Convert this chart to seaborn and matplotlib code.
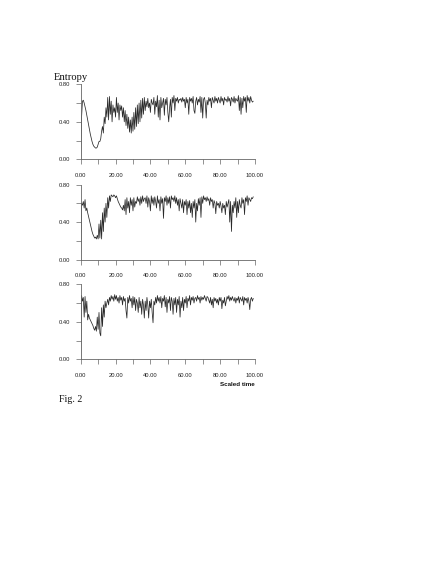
import numpy as np
import pandas as pd
import matplotlib
matplotlib.use("Agg")
import matplotlib.pyplot as plt
from matplotlib.ticker import MultipleLocator, FormatStrFormatter
import seaborn as sns

# time grid (scaled time), step 0.5
time = np.arange(0, 99.5, 0.5)

entropy_a = [
    0.00, 0.45, 0.62, 0.63, 0.60, 0.56, 0.52, 0.47, 0.42, 0.37,
    0.32, 0.27, 0.23, 0.19, 0.16, 0.14, 0.13, 0.12, 0.12, 0.13,
    0.16, 0.19, 0.19, 0.22, 0.30, 0.35, 0.28, 0.45, 0.38, 0.55,
    0.45, 0.66, 0.42, 0.67, 0.48, 0.62, 0.40, 0.58, 0.50, 0.55,
    0.45, 0.66, 0.50, 0.60, 0.42, 0.58, 0.52, 0.57, 0.45, 0.55,
    0.40, 0.52, 0.36, 0.48, 0.33, 0.45, 0.29, 0.42, 0.28, 0.45,
    0.30, 0.50, 0.32, 0.55, 0.35, 0.58, 0.38, 0.60, 0.40, 0.63,
    0.44, 0.65, 0.48, 0.66, 0.52, 0.62, 0.56, 0.65, 0.55, 0.60,
    0.50, 0.64, 0.60, 0.58, 0.66, 0.48, 0.62, 0.56, 0.68, 0.45,
    0.63, 0.42, 0.66, 0.55, 0.60, 0.65, 0.47, 0.64, 0.58, 0.66,
    0.50, 0.40, 0.55, 0.64, 0.45, 0.66, 0.60, 0.68, 0.52, 0.65,
    0.62, 0.66, 0.60, 0.64, 0.63, 0.65, 0.61, 0.66, 0.62, 0.64,
    0.55, 0.66, 0.60, 0.64, 0.48, 0.66, 0.62, 0.65, 0.60, 0.67,
    0.52, 0.49, 0.62, 0.66, 0.58, 0.64, 0.61, 0.67, 0.50, 0.66,
    0.44, 0.64, 0.66, 0.60, 0.44, 0.63, 0.58, 0.66, 0.62, 0.65,
    0.55, 0.66, 0.63, 0.60, 0.67, 0.62, 0.65, 0.60, 0.66, 0.63,
    0.60, 0.67, 0.62, 0.65, 0.58, 0.66, 0.63, 0.64, 0.61, 0.67,
    0.62, 0.65, 0.57, 0.66, 0.64, 0.61, 0.67, 0.60, 0.65, 0.63,
    0.62, 0.68, 0.52, 0.66, 0.48, 0.65, 0.55, 0.67, 0.62, 0.66,
    0.50, 0.68, 0.62, 0.66, 0.60, 0.67, 0.63, 0.61, 0.62,
]

entropy_b = [
    0.00, 0.60, 0.58, 0.62, 0.55, 0.64, 0.52, 0.55, 0.50, 0.46,
    0.42, 0.38, 0.34, 0.30, 0.27, 0.25, 0.23, 0.24, 0.22, 0.26,
    0.22, 0.38, 0.23, 0.42, 0.22, 0.50, 0.30, 0.55, 0.40, 0.60,
    0.45, 0.66, 0.55, 0.68, 0.62, 0.69, 0.68, 0.67, 0.69, 0.68,
    0.66, 0.68, 0.65, 0.62, 0.60, 0.58, 0.56, 0.55, 0.53, 0.58,
    0.52, 0.64, 0.48, 0.66, 0.55, 0.62, 0.50, 0.66, 0.58, 0.64,
    0.52, 0.66, 0.56, 0.62, 0.60, 0.67, 0.62, 0.65, 0.58, 0.67,
    0.60, 0.68, 0.62, 0.65, 0.66, 0.60, 0.68, 0.56, 0.66, 0.62,
    0.52, 0.68, 0.60, 0.66, 0.58, 0.67, 0.62, 0.55, 0.68, 0.60,
    0.64, 0.52, 0.67, 0.60, 0.65, 0.44, 0.66, 0.62, 0.68, 0.58,
    0.66, 0.60, 0.67, 0.55, 0.68, 0.64, 0.66, 0.62, 0.68, 0.60,
    0.66, 0.58, 0.64, 0.52, 0.65, 0.60, 0.55, 0.64, 0.50, 0.62,
    0.58, 0.64, 0.48, 0.62, 0.55, 0.63, 0.50, 0.60, 0.45, 0.62,
    0.55, 0.64, 0.40, 0.60, 0.52, 0.65, 0.58, 0.66, 0.45, 0.67,
    0.60, 0.68, 0.64, 0.66, 0.62, 0.67, 0.63, 0.65, 0.58, 0.66,
    0.62, 0.64, 0.55, 0.63, 0.60, 0.49, 0.62, 0.58, 0.60, 0.55,
    0.62, 0.57, 0.50, 0.60, 0.55, 0.58, 0.48, 0.62, 0.56, 0.60,
    0.64, 0.40, 0.62, 0.30, 0.58, 0.50, 0.62, 0.55, 0.66, 0.45,
    0.62, 0.50, 0.64, 0.58, 0.55, 0.66, 0.60, 0.64, 0.48, 0.66,
    0.62, 0.68, 0.58, 0.66, 0.64, 0.62, 0.66, 0.65, 0.67,
]

entropy_c = [
    0.00, 0.68, 0.62, 0.66, 0.45, 0.67, 0.50, 0.62, 0.42, 0.48,
    0.44, 0.42, 0.40, 0.38, 0.36, 0.33, 0.31, 0.35, 0.30, 0.45,
    0.32, 0.50, 0.28, 0.25, 0.55, 0.35, 0.58, 0.45, 0.62, 0.55,
    0.60, 0.64, 0.58, 0.66, 0.62, 0.68, 0.64, 0.67, 0.62, 0.69,
    0.64, 0.68, 0.62, 0.66, 0.60, 0.68, 0.63, 0.66, 0.58, 0.67,
    0.62, 0.65, 0.52, 0.44, 0.66, 0.60, 0.68, 0.62, 0.65, 0.55,
    0.67, 0.58, 0.66, 0.52, 0.64, 0.60, 0.50, 0.66, 0.55, 0.62,
    0.48, 0.64, 0.58, 0.44, 0.62, 0.52, 0.66, 0.58, 0.44, 0.62,
    0.55, 0.64, 0.50, 0.39, 0.62, 0.58, 0.66, 0.60, 0.68, 0.62,
    0.66, 0.60, 0.67, 0.55, 0.65, 0.62, 0.68, 0.56, 0.66, 0.50,
    0.64, 0.60, 0.67, 0.52, 0.66, 0.62, 0.48, 0.65, 0.58, 0.66,
    0.50, 0.64, 0.58, 0.67, 0.45, 0.62, 0.55, 0.66, 0.52, 0.64,
    0.60, 0.67, 0.55, 0.65, 0.62, 0.68, 0.58, 0.66, 0.63, 0.67,
    0.60, 0.65, 0.66, 0.62, 0.68, 0.64, 0.66, 0.60, 0.67, 0.63,
    0.66, 0.64, 0.68, 0.65, 0.62, 0.67, 0.66, 0.63, 0.60, 0.66,
    0.58, 0.64, 0.55, 0.66, 0.62, 0.65, 0.60, 0.64, 0.58, 0.66,
    0.62, 0.66, 0.54, 0.63, 0.60, 0.66, 0.57, 0.62, 0.67, 0.64,
    0.68, 0.62, 0.66, 0.63, 0.67, 0.64, 0.62, 0.66, 0.60, 0.65,
    0.63, 0.67, 0.60, 0.66, 0.64, 0.62, 0.67, 0.58, 0.66, 0.63,
    0.65, 0.60, 0.66, 0.62, 0.53, 0.64, 0.66, 0.62, 0.65,
]

x_ticks = [0, 20, 40, 60, 80, 100]
y_ticks = [0.0, 0.4, 0.8]

sns.set_style("ticks")
plt.rcParams["font.family"] = ["Liberation Sans", "DejaVu Sans"]

W, H = 436, 575
fig = plt.figure(figsize=(W / 100, H / 100), dpi=100)

def fbox(left, top, right, bottom):
    return [left / W, 1 - bottom / H, (right - left) / W, (bottom - top) / H]

panels = [(entropy_a, 84.3, 159.3), (entropy_b, 184.6, 259.6), (entropy_c, 284.3, 359.3)]
line_col = "#2a2a2a"
axis_col = "#666666"

for vals, top, bottom in panels:
    ax = fig.add_axes(fbox(80.7, top, 255.0, bottom))
    df = pd.DataFrame({"t": time, "S": vals})
    sns.lineplot(data=df, x="t", y="S", ax=ax, color=line_col, linewidth=0.55)
    ax.set_xlim(0, 100)
    ax.set_ylim(0, 0.8)
    ax.set_xticks(x_ticks)
    ax.set_yticks(y_ticks)
    ax.xaxis.set_minor_locator(MultipleLocator(10))
    ax.yaxis.set_minor_locator(MultipleLocator(0.2))
    ax.xaxis.set_major_formatter(FormatStrFormatter("%.2f"))
    ax.yaxis.set_major_formatter(FormatStrFormatter("%.2f"))
    ax.set_xlabel("")
    ax.set_ylabel("")
    for s in ["top", "right"]:
        ax.spines[s].set_visible(False)
    for s in ["left", "bottom"]:
        ax.spines[s].set_color(axis_col)
        ax.spines[s].set_linewidth(0.6)
    ax.tick_params(which="both", direction="out", length=3.8, width=0.5,
                   color=axis_col, labelsize=4.2, labelcolor="#222222")
    ax.tick_params(axis="x", which="major", pad=6)
    ax.tick_params(axis="y", which="major", pad=4)
    ax.patch.set_alpha(0)

fig.text(54 / W, 1 - 80 / H, "Entropy", family=["Liberation Serif"], fontsize=7.6,
         ha="left", va="baseline", color="#111111")
fig.text(255 / W, 1 - 384 / H, "Scaled time", fontsize=4.5, fontweight="bold",
         ha="right", va="center", color="#111111")
fig.text(59 / W, 1 - 402 / H, "Fig. 2", family=["Liberation Serif"], fontsize=7.2,
         ha="left", va="baseline", color="#111111")

fig.savefig("out.png", dpi=100, facecolor="white")
